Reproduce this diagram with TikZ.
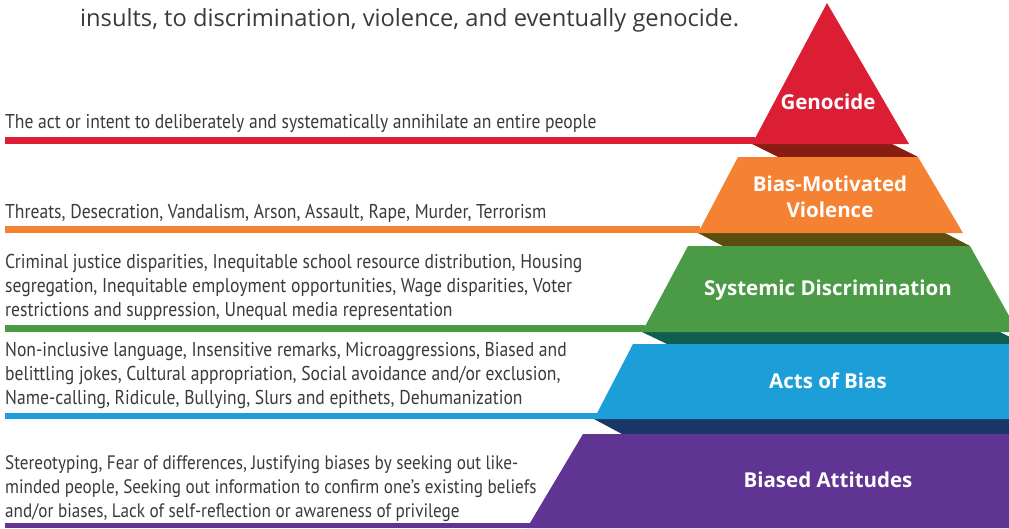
\documentclass[tikz,border=0pt]{standalone}
\usepackage{fontspec}
\setmainfont{Open Sans}
\newfontfamily\narrowfont[FakeStretch=0.88]{PT Sans}
\usetikzlibrary{positioning}

\definecolor{genred}{HTML}{DC1E35}
\definecolor{genshadow}{HTML}{8A1D12}
\definecolor{vioorange}{HTML}{F58233}
\definecolor{vioshadow}{HTML}{5A4E0F}
\definecolor{sysgreen}{HTML}{4A9A46}
\definecolor{sysshadow}{HTML}{0F5E4F}
\definecolor{actblue}{HTML}{1C9FD9}
\definecolor{actshadow}{HTML}{1B3566}
\definecolor{attpurple}{HTML}{5F3492}
\definecolor{textgray}{HTML}{3A3A3A}

\begin{document}
\begin{tikzpicture}[
        x=1pt, y=-1pt,
        level/.style={text=white, font=\bfseries\fontsize{20.5}{26}\selectfont, align=center, inner sep=0pt},
        desc/.style={text=textgray, font=\narrowfont\fontsize{20}{24}\selectfont, align=left, anchor=base west, inner sep=0pt},
        intro/.style={text=textgray, font=\fontsize{23.7}{28}\selectfont, anchor=base west, inner sep=0pt}
    ]
        \useasboundingbox (0,0) rectangle (1009,528);
        \clip (0,0) rectangle (1009,528);

        % Shadows
        \fill[genshadow] (752,144) -- (778,157) -- (918,157) -- (892,144) -- cycle;
        \fill[vioshadow] (698,233) -- (723,246) -- (970,246) -- (945,233) -- cycle;
        \fill[sysshadow] (642,332) -- (667,344) -- (1024,344) -- (1000,332) -- cycle;
        \fill[actshadow] (594,419) -- (622,434) -- (1100,434) -- (1070,419) -- cycle;

        % Levels
        \fill[genred] (827,3) -- (909,144) -- (752,144) -- cycle;
        \fill[vioorange] (738,157) -- (918,157) -- (963,233) -- (698,233) -- cycle;
        \fill[sysgreen] (688,246) -- (970,246) -- (1018,332) -- (642,332) -- cycle;
        \fill[actblue] (633,344) -- (1030,344) -- (1075,419) -- (594,419) -- cycle;
        \fill[attpurple] (583,434) -- (1090,434) -- (1150,528) -- (527,528) -- cycle;

        % Bars
        \fill[genred] (5,137) rectangle (755,144);
        \fill[vioorange] (5,226) rectangle (700,233);
        \fill[sysgreen] (5,325) rectangle (645,332);
        \fill[actblue] (5,413) rectangle (597,419);
        \fill[attpurple] (5,523) rectangle (530,528);

        % Labels
        \node (genocide) [level] at (828,102) {Genocide};
        \node (violence) [level] at (830,197) {Bias-Motivated\\Violence};
        \node (systemic) [level] at (828,290) {Systemic Discrimination};
        \node (acts) [level] at (828,381) {Acts of Bias};
        \node (attitudes) [level] at (828,480) {Biased Attitudes};

        % Descriptions
        \node (intro) [intro] at (80,26) {insults, to discrimination, violence, and eventually genocide.};
        \node (gendesc) [desc] at (5,128) {The act or intent to deliberately and systematically annihilate an entire people};
        \node (viodesc) [desc] at (5,218) {Threats, Desecration, Vandalism, Arson, Assault, Rape, Murder, Terrorism};
        \node (sysdesc) [desc] at (5,316) {Criminal justice disparities, Inequitable school resource distribution, Housing\\segregation, Inequitable employment opportunities, Wage disparities, Voter\\restrictions and suppression, Unequal media representation};
        \node (actdesc) [desc] at (5,404) {Non-inclusive language, Insensitive remarks, Microaggressions, Biased and\\belittling jokes, Cultural appropriation, Social avoidance and/or exclusion,\\Name-calling, Ridicule, Bullying, Slurs and epithets, Dehumanization};
        \node (attdesc) [desc, font=\narrowfont\fontsize{19.5}{24}\selectfont] at (5,517) {Stereotyping, Fear of differences, Justifying biases by seeking out like-\\minded people, Seeking out information to confirm one’s existing beliefs\\and/or biases, Lack of self-reflection or awareness of privilege};

    \end{tikzpicture}
\end{document}
